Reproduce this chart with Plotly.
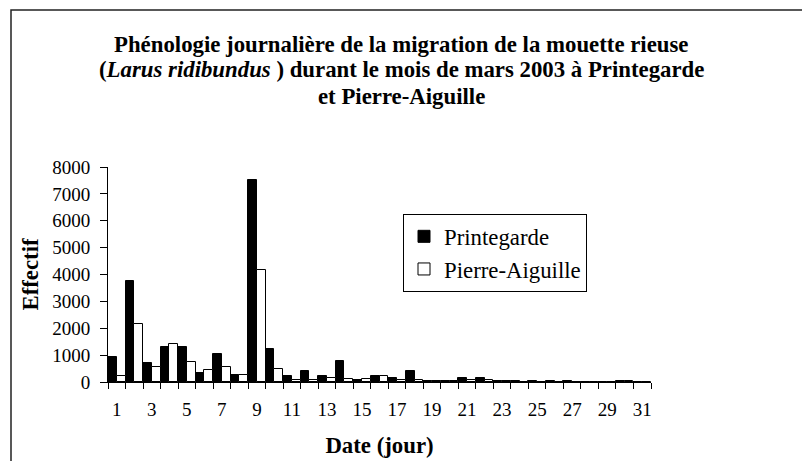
import plotly.graph_objects as go

days = [str(d) for d in range(1, 32)]
printegarde = [940, 3740, 725, 1300, 1310, 340, 1060, 250, 7525, 1240, 225, 410, 225, 800, 90,
               225, 160, 410, 40, 40, 160, 140, 50, 25, 30, 50, 35, 0, 0, 50, 0]
pierre_aiguille = [210, 2175, 575, 1400, 750, 440, 560, 275, 4160, 475, 60, 60, 140, 125, 100,
                   225, 60, 90, 20, 50, 90, 90, 30, 10, 10, 10, 10, 0, 0, 25, 0]
tick_text = [d if int(d) % 2 == 1 else "" for d in days]
y_ticks = list(range(0, 8001, 1000))
title_lines = [
    "<b>Phénologie journalière de la migration de la mouette rieuse</b>",
    "<b>(<i>Larus ridibundus</i> ) durant le mois de mars 2003 à Printegarde</b>",
    "<b>et Pierre-Aiguille</b>",
]

FONT = "Liberation Serif, Times New Roman, serif"
OFF = 8                      # page body margin offset
W, H = 810 - OFF, 461 - OFF
PL, PR, PT, PB = 108, 651, 167, 382   # plot area in page pixels
L, T = PL - OFF, PT - OFF
R, B = W - (PR - OFF), H - (PB - OFF)
PW, PH = PR - PL, PB - PT


def px_x(px):
    return (px - PL) / PW


def px_y(py):
    return (PB - py) / PH


fig = go.Figure()
fig.add_trace(go.Bar(x=days, y=printegarde, name="Printegarde",
                     marker=dict(color="black", line=dict(color="black", width=1))))
fig.add_trace(go.Bar(x=days, y=pierre_aiguille, name="Pierre-Aiguille",
                     marker=dict(color="white", line=dict(color="black", width=1))))

fig.update_layout(
    width=W, height=H, autosize=False,
    margin=dict(l=L, r=R, t=T, b=B, autoexpand=False),
    paper_bgcolor="white", plot_bgcolor="white",
    barmode="group", bargap=0, bargroupgap=0,
    font=dict(family=FONT, color="black", size=19),
    legend=dict(x=px_x(403), y=px_y(214), xanchor="left", yanchor="top",
                bordercolor="black", borderwidth=1, bgcolor="white",
                font=dict(family=FONT, size=22.8, color="black"),
                itemwidth=30, tracegroupgap=0),
    showlegend=True,
)
fig.update_xaxes(type="category", tickmode="array", tickvals=days, ticktext=tick_text,
                 tickson="boundaries", ticks="outside", ticklen=6, tickcolor="black",
                 tickangle=0, ticklabelstandoff=10,
                 showline=True, linecolor="black", linewidth=1, showgrid=False,
                 tickfont=dict(family=FONT, size=19),
                 title=dict(text="<b>Date (jour)</b>", font=dict(family=FONT, size=22.8), standoff=18))
fig.update_yaxes(range=[0, 8000], tickmode="array", tickvals=y_ticks,
                 ticks="outside", ticklen=7, tickcolor="black", ticklabelstandoff=6,
                 showline=True, linecolor="black", linewidth=1, showgrid=False, zeroline=False,
                 tickfont=dict(family=FONT, size=19),
                 title=dict(text="<b>Effectif</b>", font=dict(family=FONT, size=22.8), standoff=7))

for i, line in enumerate(title_lines):
    fig.add_annotation(text=line, xref="paper", yref="paper",
                       x=px_x(401), y=px_y(44 + 26 * i), xanchor="center", yanchor="middle",
                       showarrow=False, font=dict(family=FONT, size=22.8, color="black"))

fig.add_shape(type="rect", xref="paper", yref="paper",
              x0=px_x(11), x1=1.5, y0=-0.6, y1=px_y(10),
              line=dict(color="#222", width=1.5), fillcolor="rgba(0,0,0,0)", layer="below")

fig.write_html("out.html")
